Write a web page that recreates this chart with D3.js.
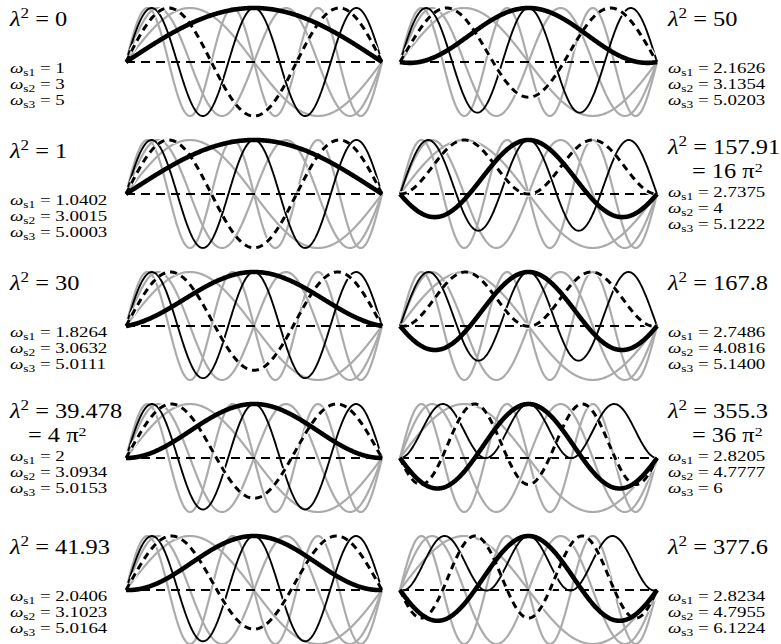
<!DOCTYPE html>
<html>
<head>
<meta charset="utf-8">
<script src="https://cdn.jsdelivr.net/npm/d3@7"></script>
<style>
  body { margin: 0; background: #fff; }
</style>
</head>
<body>
<svg id="chart" width="781" height="644"></svg>
<script>
// cable parameter per panel (left column first, then right column)
var lambdaLabels = ["0", "1", "30", "39.478", "41.93", "50", "157.91", "167.8", "355.3", "377.6"];
var lambdaPiLabels = ["", "", "", "4", "", "", "16", "", "36", ""];

// symmetric mode frequencies
var omegaS1 = ["1", "1.0402", "1.8264", "2", "2.0406", "2.1626", "2.7375", "2.7486", "2.8205", "2.8234"];
var omegaS2 = ["3", "3.0015", "3.0632", "3.0934", "3.1023", "3.1354", "4", "4.0816", "4.7777", "4.7955"];
var omegaS3 = ["5", "5.0003", "5.0111", "5.0153", "5.0164", "5.0203", "5.1222", "5.1400", "6", "6.1224"];

// antisymmetric modes drawn in grey, the same in every panel
var antiModes = [2, 4, 6];

var width = 781;
var height = 644;
var serif = '"Liberation Serif", "Times New Roman", serif';
var stretch = 1.22; // the labels are set wide in the original

var svg = d3.select('#chart')
    .attr('width', width)
    .attr('height', height);

var columns = [[126, 382], [400, 657]];
var rowBaselines = [62, 194, 326, 458, 590];
var amplitude = 54;

var xs = d3.range(0, 1.00001, 0.0025);

// symmetric mode of a suspended cable: 1 - cos(w pi (x - 1/2)) / cos(w pi / 2)
function symmetricMode(w) {
    var c = Math.cos(w * Math.PI / 2);
    var ys = xs.map(function (x) {
        if (Math.abs(c) < 1e-6) {
            return Math.cos(w * Math.PI * (x - 0.5)) * Math.sin(w * Math.PI / 2);
        }
        return 1 - Math.cos(w * Math.PI * (x - 0.5)) / c;
    });
    var m = d3.max(ys, function (d) { return Math.abs(d); });
    return ys.map(function (y) { return y / m; });
}

function antiMode(n) {
    return xs.map(function (x) { return Math.sin(n * Math.PI * x); });
}

function label(px, py, size) {
    return svg.append('g')
        .attr('transform', 'translate(' + px + ',' + py + ') scale(' + stretch + ',1)')
        .append('text')
        .attr('font-family', serif)
        .attr('font-size', size);
}

lambdaLabels.forEach(function (lab, i) {
    var col = i < 5 ? 0 : 1;
    var row = i % 5;
    var base = rowBaselines[row];
    var twoLines = lambdaPiLabels[i] !== '';

    var x = d3.scaleLinear().domain([0, 1]).range(columns[col]);
    var y = d3.scaleLinear().domain([-1, 1]).range([base + amplitude, base - amplitude]);

    var line = d3.line()
        .x(function (d, j) { return x(xs[j]); })
        .y(function (d) { return y(d); });

    var panel = svg.append('g');

    // grey antisymmetric modes
    panel.append('g').selectAll('path')
        .data(antiModes.map(antiMode))
        .enter()
        .append('path')
        .attr('d', line)
        .attr('fill', 'none')
        .attr('stroke', '#ababab')
        .attr('stroke-width', 2.2);

    // dashed static line
    panel.append('line')
        .attr('x1', x(0))
        .attr('x2', x(1))
        .attr('y1', y(0))
        .attr('y2', y(0))
        .attr('stroke', '#000')
        .attr('stroke-width', 1.8)
        .attr('stroke-dasharray', '9,6');

    // third symmetric mode, thin
    panel.append('path')
        .attr('d', line(symmetricMode(+omegaS3[i])))
        .attr('fill', 'none')
        .attr('stroke', '#000')
        .attr('stroke-width', 1.9);

    // second symmetric mode, dashed
    var mode2 = line(symmetricMode(+omegaS2[i]));
    panel.append('path')
        .attr('d', mode2)
        .attr('fill', 'none')
        .attr('stroke', '#fff')
        .attr('stroke-width', 5.5)
        .attr('stroke-dasharray', '7,5');
    panel.append('path')
        .attr('d', mode2)
        .attr('fill', 'none')
        .attr('stroke', '#000')
        .attr('stroke-width', 3)
        .attr('stroke-dasharray', '7,5');

    // first symmetric mode, thick
    panel.append('path')
        .attr('d', line(symmetricMode(+omegaS1[i])))
        .attr('fill', 'none')
        .attr('stroke', '#000')
        .attr('stroke-width', 4.6)
        .attr('stroke-linejoin', 'round');

    // labels
    var tx = col === 0 ? 10 : 668;

    var lam = label(tx, base - (twoLines ? 40 : 36), 20);
    lam.append('tspan').attr('font-style', 'italic').text('λ');
    lam.append('tspan').attr('dy', -8).attr('font-size', 14).text('2');
    lam.append('tspan').attr('dy', 8).text(' = ' + lab);

    if (twoLines) {
        var lam2 = label(tx + (col === 0 ? 18 : 24), base - 16, 20);
        lam2.append('tspan').text('= ' + lambdaPiLabels[i] + ' π');
        lam2.append('tspan').attr('dy', -6).attr('font-size', 13).text('2');
    }

    var omegaTop = base + (twoLines ? 3 : 11);
    [omegaS1[i], omegaS2[i], omegaS3[i]].forEach(function (w, k) {
        var t = label(tx, omegaTop + k * 16, 15.5);
        t.append('tspan').attr('font-style', 'italic').text('ω');
        t.append('tspan').attr('dy', 3).attr('font-size', 11).text('s' + (k + 1));
        t.append('tspan').attr('dy', -3).text(' = ' + w);
    });
});
</script>
</body>
</html>
